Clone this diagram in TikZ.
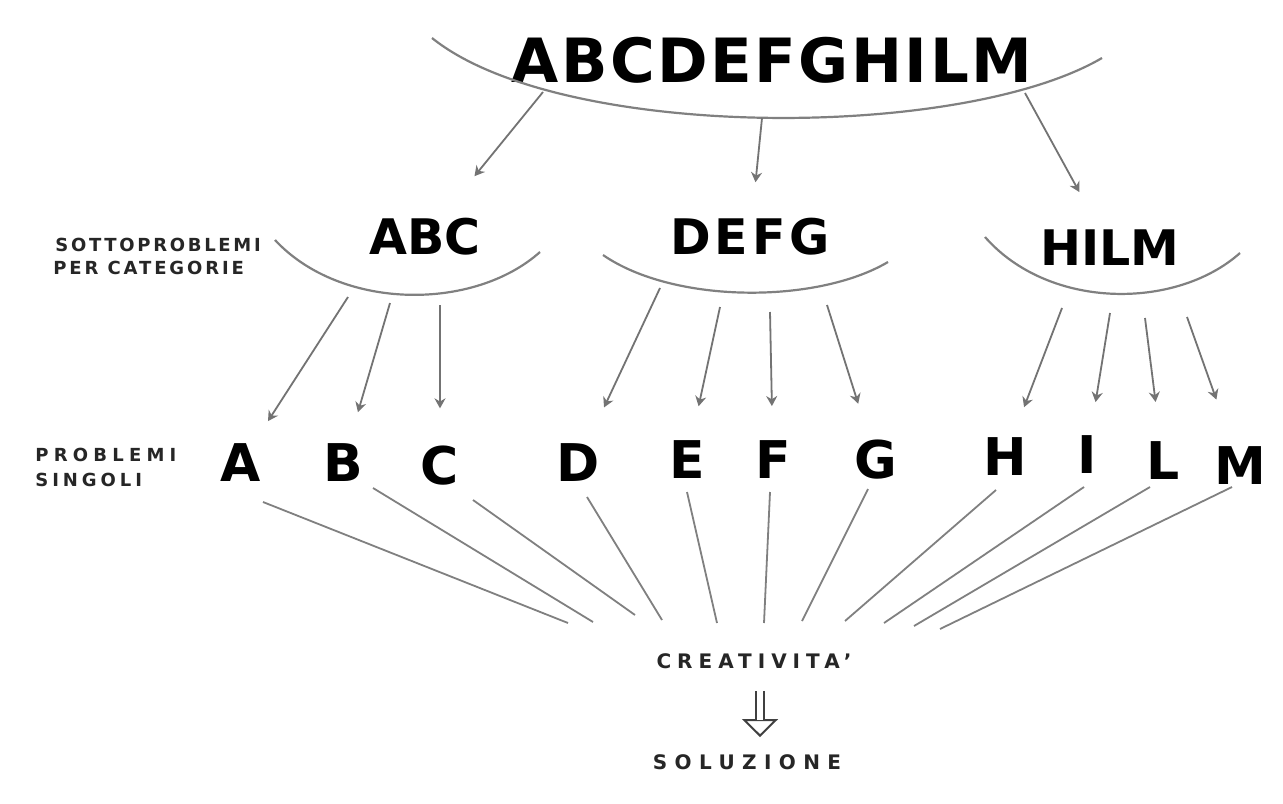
\documentclass[tikz,border=0pt]{standalone}
\usepackage{fontspec}
\setmainfont{DejaVu Sans}
\usetikzlibrary{arrows.meta}
\begin{document}
\begin{tikzpicture}[x=0.5pt,y=-0.5pt,
  big/.style={font=\bfseries\fontsize{30.5}{31}\selectfont, inner sep=0pt},
  mid/.style={font=\bfseries\fontsize{24.5}{24.5}\selectfont, inner sep=0pt},
  sing/.style={font=\bfseries\fontsize{26}{26}\selectfont, inner sep=0pt},
  lbl/.style={font=\bfseries\fontsize{9}{9}\selectfont, inner sep=0pt, text=black!85},
  arcline/.style={draw=black!50, line width=1.1pt},
  arr/.style={draw=black!55, line width=0.9pt, -{Stealth[length=5pt,width=5.5pt]}},
  lnk/.style={draw=black!50, line width=0.9pt},
  headarr/.style={draw=black!75, line width=1pt, -{Triangle[open, length=9pt, width=18pt]}},
  dblshaft/.style={draw=black!75, double, double distance=2.8pt, line width=0.9pt},
]
\fill[white] (0,0) rectangle (1283,803);
\useasboundingbox (0,0) rectangle (1283,803);

% titles
\node[big] (top) at (772,60) {\addfontfeature{LetterSpace=4}ABCDEFGHILM};
\node[mid] (abc) at (425,237) {ABC};
\node[mid] (defg) at (750,237) {\addfontfeature{LetterSpace=8}DEFG};
\node[mid] (hilm) at (1110,248) {HILM};

% single letters
\node[sing] (A) at (241,463) {A};
\node[sing] (B) at (343,463) {B};
\node[sing] (C) at (440,466) {C};
\node[sing] (D) at (578,463) {D};
\node[sing] (E) at (687,460) {E};
\node[sing] (F) at (773,460) {F};
\node[sing] (G) at (876,460) {G};
\node[sing] (H) at (1005,457) {H};
\node[sing] (I) at (1087,455) {I};
\node[sing] (L) at (1163,461) {L};
\node[sing] (M) at (1240,466) {M};

% side labels
\node[lbl, anchor=west] (sp1) at (55,245) {\addfontfeature{LetterSpace=15}SOTTOPROBLEMI};
\node[lbl, anchor=west] (sp2) at (53,268) {\addfontfeature{LetterSpace=16}PER CATEGORIE};
\node[lbl, anchor=west] (ps1) at (35,455) {\addfontfeature{LetterSpace=29}PROBLEMI};
\node[lbl, anchor=west] (ps2) at (35,480) {\addfontfeature{LetterSpace=22}SINGOLI};

\node[lbl, font=\bfseries\fontsize{10}{10}\selectfont] (crea) at (754,661) {\addfontfeature{LetterSpace=30}CREATIVITA'};
\node[lbl, font=\bfseries\fontsize{10}{10}\selectfont] (sol) at (747,762) {\addfontfeature{LetterSpace=37}SOLUZIONE};

% arcs
\draw[arcline] (432,38) .. controls (560,141) and (960,141) .. (1102,58);
\draw[arcline] (275,240) .. controls (341,311) and (474,311) .. (540,252);
\draw[arcline] (603,255) .. controls (674,304) and (817,304) .. (888,262);
\draw[arcline] (985,237) .. controls (1049,310) and (1176,310) .. (1240,253);

% arrow start points on arcs
\coordinate (t1) at (543,92);
\coordinate (t2) at (762,118);
\coordinate (t3) at (1025,93);
\coordinate (sa) at (348,297);
\coordinate (sb) at (390,303);
\coordinate (sc) at (440,305);
\coordinate (sd) at (660,288);
\coordinate (se) at (720,307);
\coordinate (sf) at (770,312);
\coordinate (sg) at (827,305);
\coordinate (sh) at (1062,308);
\coordinate (si) at (1110,313);
\coordinate (sl) at (1145,318);
\coordinate (sm) at (1187,317);

\draw[arr, shorten >=27pt] (t1) -- (abc);
\draw[arr, shorten >=18pt] (t2) -- (defg);
\draw[arr, shorten >=21.5pt] (t3) -- (hilm);

\draw[arr, shorten >=13.4pt] (sa) -- (A);
\draw[arr, shorten >=16.4pt] (sb) -- (B);
\draw[arr, shorten >=18.8pt] (sc) -- (C);
\draw[arr, shorten >=20pt] (sd) -- (D);
\draw[arr, shorten >=17.6pt] (se) -- (E);
\draw[arr, shorten >=17.3pt] (sf) -- (F);
\draw[arr, shorten >=19pt] (sg) -- (G);
\draw[arr, shorten >=16.3pt] (sh) -- (H);
\draw[arr, shorten >=17pt] (si) -- (I);
\draw[arr, shorten >=20pt] (sl) -- (L);
\draw[arr, shorten >=25pt] (sm) -- (M);

% end points near CREATIVITA'
\coordinate (cA) at (568,623);
\coordinate (cB) at (593,622);
\coordinate (cC) at (635,615);
\coordinate (cD) at (662,620);
\coordinate (cE) at (717,623);
\coordinate (cF) at (764,623);
\coordinate (cG) at (802,621);
\coordinate (cH) at (845,621);
\coordinate (cI) at (884,623);
\coordinate (cL) at (914,626);
\coordinate (cM) at (940,629);

\draw[lnk] (A) ++(22,39) -- (cA);
\draw[lnk] (B) ++(30,25) -- (cB);
\draw[lnk] (C) ++(33,34) -- (cC);
\draw[lnk] (D) ++(9,34) -- (cD);
\draw[lnk] (E) ++(0,32) -- (cE);
\draw[lnk] (F) ++(-3,32) -- (cF);
\draw[lnk] (G) ++(-8,29) -- (cG);
\draw[lnk] (H) ++(-9,33) -- (cH);
\draw[lnk] (I) ++(-3,32) -- (cI);
\draw[lnk] (L) ++(-13,26) -- (cL);
\draw[lnk] (M) ++(-8,21) -- (cM);

% creativity -> solution (hollow double arrow)
\coordinate (ax) at (760,700);
\draw[headarr, shorten <=11pt, shorten >=8.5pt] (crea.south -| ax) -- (sol.north -| ax);
\draw[dblshaft, shorten <=11pt, shorten >=17pt] (crea.south -| ax) -- (sol.north -| ax);
\end{tikzpicture}
\end{document}
